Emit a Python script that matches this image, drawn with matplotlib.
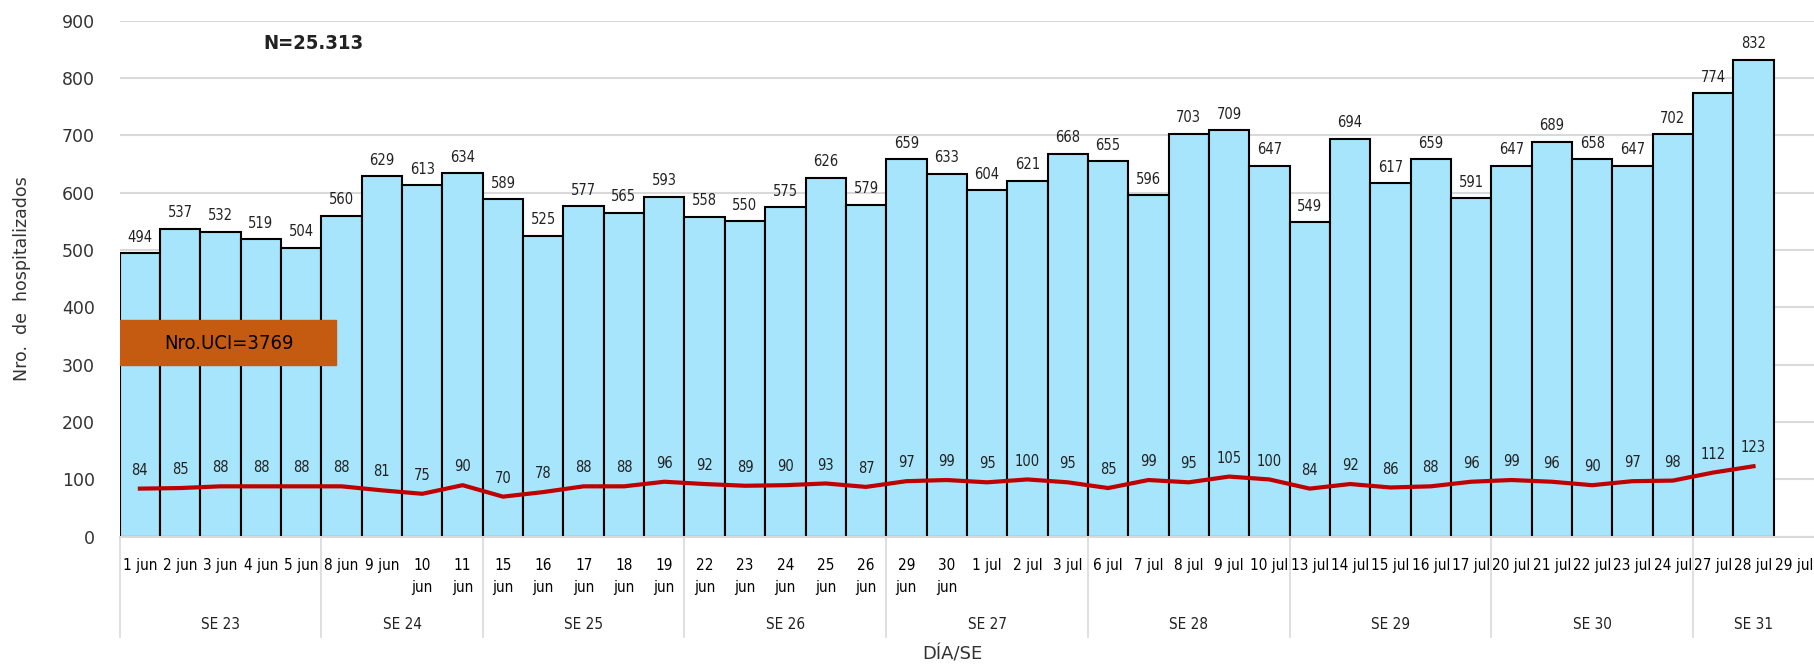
import matplotlib.pyplot as plt
import matplotlib.transforms as mtransforms
import numpy as np

# fechas (29 jul sin dato)
dias = ["1 jun", "2 jun", "3 jun", "4 jun", "5 jun",
        "8 jun", "9 jun", "10\njun", "11\njun",
        "15\njun", "16\njun", "17\njun", "18\njun", "19\njun",
        "22\njun", "23\njun", "24\njun", "25\njun", "26\njun",
        "29\njun", "30\njun", "1 jul", "2 jul", "3 jul",
        "6 jul", "7 jul", "8 jul", "9 jul", "10 jul",
        "13 jul", "14 jul", "15 jul", "16 jul", "17 jul",
        "20 jul", "21 jul", "22 jul", "23 jul", "24 jul",
        "27 jul", "28 jul", "29 jul"]

hospitalizados = [494, 537, 532, 519, 504,
                  560, 629, 613, 634,
                  589, 525, 577, 565, 593,
                  558, 550, 575, 626, 579,
                  659, 633, 604, 621, 668,
                  655, 596, 703, 709, 647,
                  549, 694, 617, 659, 591,
                  647, 689, 658, 647, 702,
                  774, 832]

uci = [84, 85, 88, 88, 88,
       88, 81, 75, 90,
       70, 78, 88, 88, 96,
       92, 89, 90, 93, 87,
       97, 99, 95, 100, 95,
       85, 99, 95, 105, 100,
       84, 92, 86, 88, 96,
       99, 96, 90, 97, 98,
       112, 123]

semanas = ["SE 23", "SE 24", "SE 25", "SE 26", "SE 27", "SE 28", "SE 29", "SE 30", "SE 31"]
dias_por_semana = [5, 4, 5, 5, 5, 5, 5, 5, 3]

plt.rcParams["font.family"] = ["DejaVu Sans"]
cond = dict(fontstretch="condensed")

fig = plt.figure(figsize=(18.14, 6.66), dpi=100)
ax = fig.add_axes([0.066, 0.194, 0.934, 0.775])

x = np.arange(len(dias))
xb = x[:len(hospitalizados)]

ax.set_axisbelow(True)
ax.yaxis.grid(True, color="#D9D9D9", linewidth=1.5)
bars = ax.bar(xb, hospitalizados, width=1.0, color="#A6E5FB", edgecolor="black", linewidth=1.5, zorder=2)
ax.bar_label(bars, padding=6, fontsize=10.5, color="#222222", **cond)

ax.plot(xb, uci, color="#C00000", linewidth=3, zorder=3)
for xi, v in zip(xb, uci):
    ax.text(xi, v + 32, str(v), ha="center", va="center", fontsize=10.5, color="#222222", zorder=4, **cond)

ax.set_xlim(-0.5, len(dias) - 0.5)
ax.set_ylim(0, 900)
ax.set_yticks(range(0, 901, 100))
ax.tick_params(axis="y", length=0, pad=18, labelsize=12.5, labelcolor="#333333")
ax.set_xticks(x)
ax.set_xticklabels(dias, fontsize=11, va="top", linespacing=1.6, **cond)
ax.tick_params(axis="x", length=0, pad=15)

for s in ["top", "right", "left"]:
    ax.spines[s].set_visible(False)
ax.spines["bottom"].set_color("#D9D9D9")
ax.spines["bottom"].set_linewidth(1.5)

# niveles de semana epidemiologica
trans = mtransforms.blended_transform_factory(ax.transData, ax.transAxes)
inicio = 0
for sem, n in zip(semanas, dias_por_semana):
    ax.plot([inicio - 0.5, inicio - 0.5], [0, -0.194], transform=trans, color="#D9D9D9",
            linewidth=1.2, clip_on=False)
    ax.text(inicio - 0.5 + n / 2, -0.17, sem, transform=trans, ha="center", va="center",
            fontsize=11, color="#222222", **cond)
    inicio += n

fig.text(0.525, 0.017, "DÍA/SE", ha="center", va="center", fontsize=13, color="#333333")
ax.set_ylabel("Nro.  de  hospitalizados", fontsize=12.5, color="#333333", labelpad=22)

ax.text(4.3, 860, "N=25.313", ha="center", va="center", fontsize=14.5,
        fontweight="semibold", color="#222222", **cond)
ax.add_patch(plt.Rectangle((-0.5, 300), 5.35, 78, color="#C55A11", zorder=5))
ax.text(2.2, 337, "Nro.UCI=3769", ha="center", va="center", fontsize=14.5,
        color="black", zorder=6, **cond)

fig.savefig("out.png", dpi=100)
